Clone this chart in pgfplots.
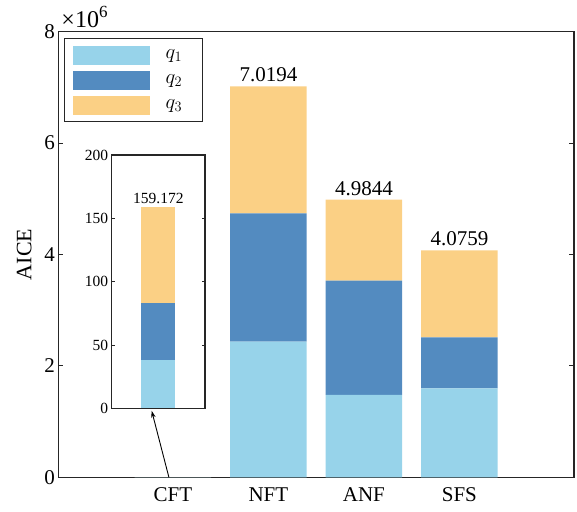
\documentclass[border=0pt]{standalone}
\usepackage{fontspec}
\setmainfont{Liberation Serif}
\usepackage{pgfplots}
\pgfplotsset{compat=1.18}
\usetikzlibrary{arrows.meta}
\definecolor{cq1}{HTML}{97D3EA}
\definecolor{cq2}{HTML}{538BC0}
\definecolor{cq3}{HTML}{FBD085}
\definecolor{axgray}{HTML}{262626}
\newcommand{\mainfs}{\fontsize{21bp}{25bp}\selectfont}
\newcommand{\insetfs}{\fontsize{15.5bp}{18bp}\selectfont}
\begin{document}
\begin{tikzpicture}
\useasboundingbox (-58.3bp,-34.7bp) rectangle (518.7bp,477.3bp);
\begin{axis}[
  name=main,
  at={(0,0)}, anchor=south west,
  scale only axis, width=515.7bp, height=445.6bp,
  xmin=-0.2, xmax=5.2, ymin=0, ymax=8,
  clip=false,
  ybar stacked, bar width=76.5bp,
  xtick={1,2,3,4}, xticklabels={CFT,NFT,ANF,SFS},
  ytick={0,2,4,6,8},
  yticklabel={\pgfmathprintnumber{\tick}},
  scaled y ticks=false,
  x tick style={draw=none},
  ytick pos=both,
  tick align=inside,
  major tick length=5bp,
  axis line style={axgray, line width=1.3bp},
  y tick style={axgray, line width=1bp},
  ticklabel style={font=\mainfs},
  xticklabel style={yshift=-7bp},
  /pgf/number format/assume math mode=true,
  ylabel={AICE},
  ylabel style={font=\fontsize{22bp}{26bp}\selectfont, at={(axis description cs:-0.066,0.5)}, anchor=center},
  legend style={at={(rel axis cs:0.011,0.986)}, anchor=north west,
    draw=axgray, line width=1.5bp, fill=white, font=\fontsize{21bp}{25bp}\selectfont,
    inner xsep=8bp, inner ysep=7bp, row sep=6bp, nodes={inner sep=0pt},
    /tikz/every odd column/.append style={column sep=16bp}},
  legend cell align=left,
  every axis plot post/.append style={legend image code/.code={\fill[##1] (0bp,-9.5bp) rectangle (77bp,9.5bp);}},
]
\addplot[fill=cq1, draw=none] coordinates {(1,0.0000382) (2,2.434) (3,1.478) (4,1.598)};
\addplot[fill=cq2, draw=none] coordinates {(1,0.0000447) (2,2.306) (3,2.052) (4,0.915)};
\addplot[fill=cq3, draw=none] coordinates {(1,0.0000763) (2,2.2794) (3,1.4544) (4,1.5629)};
\legend{\makebox[29bp][l]{$q_1$},\makebox[29bp][l]{$q_2$},\makebox[29bp][l]{$q_3$}}
\node[anchor=south, inner sep=0pt, font=\mainfs, yshift=4bp] at (axis cs:2,7.0194) {7.0194};
\node[anchor=south, inner sep=0pt, font=\mainfs, yshift=4bp] at (axis cs:3,4.9844) {4.9844};
\node[anchor=south, inner sep=0pt, font=\mainfs, yshift=4bp] at (axis cs:4,4.0759) {4.0759};
\node[anchor=base west, inner sep=0pt, font=\fontsize{24bp}{28bp}\selectfont, xshift=3bp, yshift=4.4bp] at (rel axis cs:0,1) {×10\raisebox{0.42em}{\fontsize{17bp}{20bp}\selectfont 6}};
\end{axis}
\begin{axis}[
  name=inset,
  at={(53.4bp,69bp)}, anchor=south west,
  scale only axis, width=93.3bp, height=253.3bp,
  xmin=0, xmax=2, ymin=0, ymax=200,
  clip=false,
  ybar stacked, bar width=34bp,
  xtick=\empty,
  ytick={0,50,100,150,200},
  yticklabel={\pgfmathprintnumber{\tick}},
  ytick pos=both,
  tick align=inside,
  major tick length=3bp,
  axis background/.style={fill=white},
  axis line style={axgray, line width=1.1bp},
  y tick style={axgray, line width=0.8bp},
  ticklabel style={font=\insetfs},
  /pgf/number format/assume math mode=true,
]
\addplot[fill=cq1, draw=none] coordinates {(1,38.2)};
\addplot[fill=cq2, draw=none] coordinates {(1,44.7)};
\addplot[fill=cq3, draw=none] coordinates {(1,76.272)};
\node[anchor=south, inner sep=0pt, font=\insetfs, yshift=3bp] at (axis cs:1,159.172) {159.172};
\end{axis}
\draw[-{Stealth[length=7bp,width=4.5bp]}, line width=0.9bp, black] (110.6bp,0bp) -- (93.4bp,66.5bp);
\end{tikzpicture}
\end{document}
